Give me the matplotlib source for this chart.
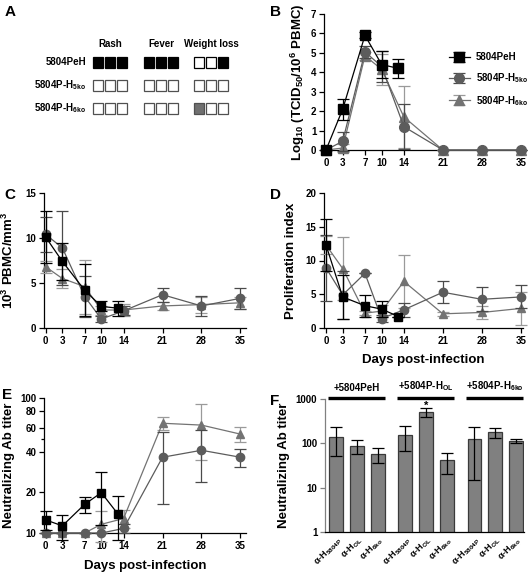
import matplotlib
matplotlib.use('Agg')
import matplotlib.pyplot as plt
import matplotlib.transforms as mtransforms
from matplotlib.patches import Rectangle
from matplotlib.ticker import FixedLocator, NullFormatter
import numpy as np

plt.rcParams['font.family'] = ['Liberation Sans', 'DejaVu Sans']
plt.rcParams['font.weight'] = 'bold'
plt.rcParams['axes.labelweight'] = 'bold'
plt.rcParams['mathtext.fontset'] = 'custom'
plt.rcParams['mathtext.rm'] = 'Liberation Sans:bold'
plt.rcParams['mathtext.bf'] = 'Liberation Sans:bold'
plt.rcParams['mathtext.it'] = 'Liberation Sans:bold'
plt.rcParams['mathtext.default'] = 'rm'

# ---- data ----
virus_names = ['5804PeH', '5804P-H$_{5ko}$', '5804P-H$_{6ko}$']
signs = ['Rash', 'Fever', 'Weight loss']
# 0 = none, 1 = present, 2 = mild (per animal, 3 animals)
pe_signs = [[1, 1, 1], [1, 1, 1], [0, 0, 1]]
h5_signs = [[0, 0, 0], [0, 0, 0], [0, 0, 0]]
h6_signs = [[0, 0, 0], [0, 0, 0], [2, 0, 0]]

days_pe = [0, 3, 7, 10, 13]
days_ko = [0, 3, 7, 10, 14, 21, 28, 35]
day_ticks = [0, 3, 7, 10, 14, 21, 28, 35]

# B - viremia
pe_vir = [0, 2.1, 5.9, 4.4, 4.2]
pe_vir_err = [0, 0.55, 0.15, 0.7, 0.5]
h5_vir = [0, 0.45, 5.05, 4.3, 1.2, 0, 0, 0]
h5_vir_err = [0, 0.5, 0.3, 0.8, 1.15, 0, 0, 0]
h6_vir = [0, 0.1, 4.85, 4.15, 1.7, 0, 0, 0]
h6_vir_err = [0, 0.2, 0.2, 0.8, 1.6, 0, 0, 0]

# C - PBMC counts
pe_pbmc = [10.1, 7.4, 4.2, 2.4, 2.2]
pe_pbmc_err = [2.9, 2.1, 2.9, 0.55, 0.85]
h5_pbmc = [10.4, 8.9, 3.5, 1.0, 1.9, 3.7, 2.45, 3.3]
h5_pbmc_err = [1.9, 4.1, 2.3, 0.3, 0.5, 0.8, 1.15, 1.2]
h6_pbmc = [6.8, 5.5, 4.6, 2.0, 2.0, 2.45, 2.6, 2.8]
h6_pbmc_err = [0.65, 1.1, 3.0, 0.5, 0.7, 0.4, 0.9, 0.7]

# D - proliferation index
pe_prol = [12.3, 4.6, 3.3, 2.8, 1.7]
pe_prol_err = [3.9, 3.3, 1.6, 1.2, 0]
h5_prol = [8.9, 4.9, 8.1, 1.4, 2.7, 5.3, 4.25, 4.6]
h5_prol_err = [4.9, 3.5, 0, 0.5, 1.0, 1.6, 1.8, 1.7]
h6_prol = [12.3, 8.8, 2.2, 2.5, 6.9, 2.1, 2.3, 2.9]
h6_prol_err = [1.4, 4.7, 0.3, 0.9, 3.9, 0.3, 1.0, 2.5]

# E - neutralizing Ab
pe_ab = [12.5, 11.3, 16.3, 19.9, 13.8]
pe_ab_err = [2.0, 2.4, 2.3, 8.5, 5.0]
h5_ab = [10, 10, 10, 10, 10.8, 36.4, 41, 36.4]
h5_ab_err = [0, 0, 0, 0, 0.8, 20, 17, 5.7]
h6_ab = [10, 10, 10, 11.6, 12.8, 65, 63, 54]
h6_ab_err = [0, 0, 0, 3, 2, 7, 28, 7]

# F - cross neutralization
f_groups = ['+5804PeH', '+5804P-H$_{OL}$', '+5804P-H$_{6ko}$']
f_sera = ['α-H$_{5804P}$', 'α-H$_{OL}$', 'α-H$_{6ko}$']
f_titer = [141, 87, 57, 154, 518, 41, 123, 177, 115]
f_err = [88, 30, 21, 87, 125, 20.5, 108, 44, 12]

W, H = 529, 572
fig = plt.figure(figsize=(W / 100, H / 100), dpi=100)


def px_axes(left, top, right, bottom):
    return fig.add_axes([left / W, 1 - bottom / H, (right - left) / W, (bottom - top) / H])


def letter(x, y, s):
    fig.text(x / W, 1 - y / H, s, fontsize=11, fontweight='bold', va='top', ha='left')


BLACK = 'black'
C5 = '#5c5c5c'
C6 = '#737373'
E5 = '#4a4a4a'
E6 = '#9a9a9a'


def style(ax):
    for s in ['top', 'right']:
        ax.spines[s].set_visible(False)
    for s in ['left', 'bottom']:
        ax.spines[s].set_linewidth(0.9)
    ax.tick_params(length=3.5, width=0.9, labelsize=7, pad=2)


def series(ax, x, y, err, color, ecolor, marker, ms, label=None, z=3):
    cont = ax.errorbar(x, y, yerr=err, color=color, ecolor=ecolor, marker=marker,
                       ms=ms, lw=0.9, elinewidth=0.9, capsize=4, capthick=0.9,
                       label=label, zorder=z)
    for a in cont.get_children():
        a.set_clip_on(False)
    return cont


def timecourse(ax, pe, pe_e, h5, h5_e, h6, h6_e, ms, labels=(None, None, None)):
    style(ax)
    h_6 = series(ax, days_ko, h6, h6_e, C6, E6, '^', ms, labels[2], z=3)
    h_5 = series(ax, days_ko, h5, h5_e, C5, E5, 'o', ms, labels[1], z=4)
    h_p = series(ax, days_pe, pe, pe_e, BLACK, BLACK, 's', ms, labels[0], z=5)
    ax.set_xticks(day_ticks)
    return h_p, h_5, h_6


# ---- A ----
axA = px_axes(0, 0, 265, 140)
axA.set_xlim(0, 265)
axA.set_ylim(140, 0)
axA.axis('off')
letter(5, 5, 'A')
group_x = [92, 143, 193]
row_y = [62, 85, 108]
bw, bh = 12, 11
fills = {0: 'white', 1: 'black', 2: '#707070'}
for j, name in enumerate(signs):
    axA.text(group_x[j] + 1.5 * bw, 44, name, ha='center', va='center', fontsize=7)
for i, (name, scores) in enumerate(zip(virus_names, [pe_signs, h5_signs, h6_signs])):
    axA.text(86, row_y[i], name, ha='right', va='center', fontsize=7)
    edge = 'black' if i == 0 else '#505050'
    for j in range(3):
        for k in range(3):
            axA.add_patch(Rectangle((group_x[j] + k * bw + 0.6, row_y[i] - bh / 2), bw - 1.2, bh,
                                    facecolor=fills[scores[j][k]], edgecolor=edge, lw=0.9))

# ---- B ----
axB = px_axes(324, 14, 523, 150)
hp, h5, h6 = timecourse(axB, pe_vir, pe_vir_err, h5_vir, h5_vir_err, h6_vir, h6_vir_err, 7,
                        labels=virus_names)
axB.set_xlim(-0.36, 35.4)
axB.set_ylim(0, 7)
axB.set_yticks(range(8))
axB.set_ylabel('Log$_{10}$ (TCID$_{50}$/10$^6$ PBMC)', fontsize=9.5, labelpad=3)
axB.legend(handles=[hp, h5, h6], loc='center left', bbox_to_anchor=(440 / W, 1 - 80 / H),
           bbox_transform=fig.transFigure, frameon=False, fontsize=7, handlelength=2.2,
           handletextpad=0.6, labelspacing=0.9)
letter(270, 5, 'B')

# ---- C ----
axC = px_axes(44, 193, 246, 328)
timecourse(axC, pe_pbmc, pe_pbmc_err, h5_pbmc, h5_pbmc_err, h6_pbmc, h6_pbmc_err, 6)
axC.set_xlim(-0.3, 36)
axC.set_ylim(0, 15)
axC.set_yticks([0, 5, 10, 15])
axC.set_ylabel('10$^3$ PBMC/mm$^3$', fontsize=9.5, labelpad=7)
letter(4, 188, 'C')

# ---- D ----
axD = px_axes(324, 193, 523, 328)
timecourse(axD, pe_prol, pe_prol_err, h5_prol, h5_prol_err, h6_prol, h6_prol_err, 6)
axD.set_xlim(-0.36, 35.4)
axD.set_ylim(0, 20)
axD.set_yticks([0, 5, 10, 15, 20])
axD.set_ylabel('Proliferation index', fontsize=9.5, labelpad=6)
axD.set_xlabel('Days post-infection', fontsize=9.5, labelpad=6)
letter(270, 188, 'D')

# ---- E ----
axE = px_axes(44, 398, 246, 533)
axE.set_yscale('log')
timecourse(axE, pe_ab, pe_ab_err, h5_ab, h5_ab_err, h6_ab, h6_ab_err, 6)
axE.set_xlim(-0.3, 36)
axE.set_ylim(10, 100)
axE.yaxis.set_major_locator(FixedLocator([10, 20, 40, 60, 80, 100]))
axE.yaxis.set_minor_locator(FixedLocator([50]))
axE.yaxis.set_minor_formatter(NullFormatter())
axE.set_yticklabels(['10', '20', '40', '60', '80', '100'])
axE.tick_params(which='minor', length=2.5, width=0.9)
axE.set_ylabel('Neutralizing Ab titer', fontsize=9.5, labelpad=4)
axE.set_xlabel('Days post-infection', fontsize=9.5, labelpad=7)
letter(2, 388, 'E')

# ---- F ----
axF = px_axes(325, 399, 524, 532)
style(axF)
gap = 0.33
pos = np.array([g * (3 + gap) + i for g in range(3) for i in range(3)])
axF.bar(pos, f_titer, width=0.67, color='#808080', edgecolor='#3a3a3a', lw=0.9, zorder=2)
axF.errorbar(pos, f_titer, yerr=f_err, fmt='none', ecolor='black', elinewidth=0.9,
             capsize=4, capthick=0.9, zorder=3)
axF.set_yscale('log')
axF.set_ylim(1, 1000)
axF.set_xlim(-0.55, 9.05)
axF.set_yticks([1, 10, 100, 1000])
axF.set_yticklabels(['1', '10', '100', '1000'])
axF.yaxis.set_minor_locator(FixedLocator([]))
axF.spines['left'].set_color('#808080')
axF.tick_params(axis='y', color='#808080')
axF.tick_params(axis='x', length=0)
axF.set_xticks(pos)
axF.set_xticklabels(f_sera * 3, rotation=45, ha='right', rotation_mode='anchor', fontsize=6.5)
axF.set_ylabel('Neutralizing Ab titer', fontsize=9.5, labelpad=4)
trans = mtransforms.blended_transform_factory(axF.transData, axF.transAxes)
for g, name in enumerate(f_groups):
    x0 = pos[3 * g] - 0.4
    x1 = pos[3 * g + 2] + 0.35
    axF.plot([x0, x1], [1.005, 1.005], color='black', lw=2.4, transform=trans,
             clip_on=False, solid_capstyle='butt')
    axF.text((x0 + x1) / 2, 1.045, name, transform=trans, ha='center', va='bottom',
             fontsize=7)
axF.text(pos[4], 590, '*', ha='center', va='baseline', fontsize=8, zorder=5)
letter(270, 394, 'F')

fig.savefig('out.png', dpi=100)
